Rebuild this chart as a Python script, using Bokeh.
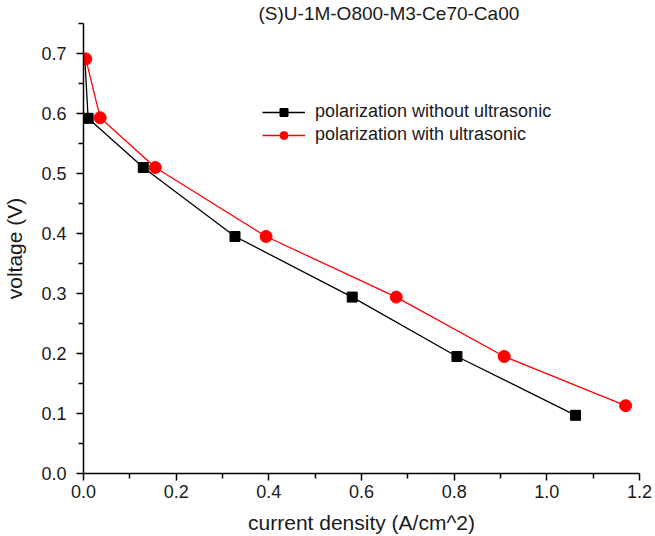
from bokeh.plotting import figure
from bokeh.models import FixedTicker, NumeralTickFormatter, Legend, LegendItem, Range1d
from bokeh.embed import file_html
from bokeh.resources import INLINE

title_text = "(S)U-1M-O800-M3-Ce70-Ca00"
x_label = "current density (A/cm^2)"
y_label = "voltage (V)"

without_name = "polarization without ultrasonic"
without_x = [0.003, 0.010, 0.129, 0.327, 0.580, 0.806, 1.062]
without_y = [0.690, 0.592, 0.510, 0.395, 0.294, 0.195, 0.097]

with_name = "polarization with ultrasonic"
with_x = [0.005, 0.036, 0.155, 0.394, 0.675, 0.908, 1.170]
with_y = [0.691, 0.593, 0.510, 0.395, 0.294, 0.195, 0.113]

x_ticks = [0.0, 0.2, 0.4, 0.6, 0.8, 1.0, 1.2]
x_minor = [0.1, 0.3, 0.5, 0.7, 0.9, 1.1]
y_ticks = [0.0, 0.1, 0.2, 0.3, 0.4, 0.5, 0.6, 0.7]
y_minor = [0.05, 0.15, 0.25, 0.35, 0.45, 0.55, 0.65, 0.75]

FONT = "Liberation Sans"

p = figure(width=655, height=536, output_backend="svg", toolbar_location=None,
           x_range=Range1d(0, 1.2), y_range=Range1d(0, 0.75),
           min_border_left=83, min_border_right=16, min_border_top=0, min_border_bottom=62)
p.title.text = title_text
p.title.align = "left"
p.title.offset = 175
p.title.standoff = 0
p.title.text_font = FONT
p.title.text_font_size = "19px"
p.title.text_font_style = "normal"
p.title.text_color = "#1a1a1a"
p.outline_line_color = None
p.xgrid.visible = False
p.ygrid.visible = False
p.background_fill_color = "white"

for ax, ticks, minor in ((p.xaxis[0], x_ticks, x_minor), (p.yaxis[0], y_ticks, y_minor)):
    ax.ticker = FixedTicker(ticks=ticks, minor_ticks=minor)
    ax.formatter = NumeralTickFormatter(format="0.0")
    ax.axis_line_width = 1.5
    ax.axis_line_color = "black"
    ax.major_tick_line_width = 1.5
    ax.minor_tick_line_width = 1.5
    ax.major_tick_out = 7
    ax.major_tick_in = 0
    ax.minor_tick_out = 5
    ax.minor_tick_in = 0
    ax.major_label_text_font = FONT
    ax.major_label_text_font_size = "18px"
    ax.major_label_text_color = "#1a1a1a"
    ax.axis_label_text_font = FONT
    ax.axis_label_text_font_size = "21px"
    ax.axis_label_text_font_style = "normal"
    ax.axis_label_text_color = "#1a1a1a"

p.xaxis.axis_label = x_label
p.yaxis.axis_label = y_label
p.xaxis.major_label_standoff = 4
p.xaxis.axis_label_standoff = 10
p.yaxis.major_label_standoff = 10
p.yaxis.axis_label_standoff = 12

l1 = p.line(without_x, without_y, line_color="black", line_width=1.3)
s1 = p.scatter(without_x[1:], without_y[1:], marker="square", size=10, fill_color="black", line_color="black")
l2 = p.line(with_x, with_y, line_color="#ff0000", line_width=1.3)
s2 = p.scatter(with_x, with_y, marker="circle", size=12, fill_color="#ff0000", line_color="#ff0000")

legend = Legend(items=[LegendItem(label=without_name, renderers=[l1, s1]),
                       LegendItem(label=with_name, renderers=[l2, s2])],
                location=(179, 328), border_line_color=None, background_fill_alpha=0,
                padding=0, margin=0, spacing=2, glyph_width=43, glyph_height=20,
                label_height=20, label_standoff=10,
                label_text_font=FONT, label_text_font_size="18px", label_text_color="#1a1a1a")
p.add_layout(legend)

open("out.html", "w").write(file_html(p, INLINE))
